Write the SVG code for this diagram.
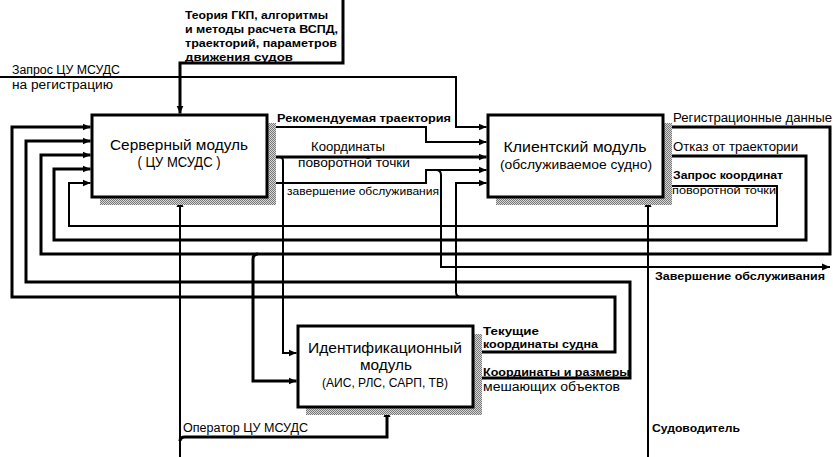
<svg xmlns="http://www.w3.org/2000/svg" width="833" height="457" viewBox="0 0 833 457">
<style>
.c{fill:none;stroke:#000;stroke-width:3;stroke-linejoin:miter}
.t{stroke-width:2}
.box{fill:#fff;stroke:#000;stroke-width:3}
.sh{fill:url(#hatch)}
text{font-family:"Liberation Sans",Arial,sans-serif;fill:#000}
.ttl{font-size:14.5px}
.sub{font-size:13px}
.lb{font-size:11px;font-weight:bold}
.ln{font-size:12px}
.sm{font-size:10.5px}
</style>
<defs>
<pattern id="hatch" width="2" height="2" patternUnits="userSpaceOnUse">
<rect width="2" height="2" fill="#d8d8d8"/>
<rect width="1" height="1" fill="#777"/>
<rect x="1" y="1" width="1" height="1" fill="#777"/>
</pattern>
<marker id="ar" markerUnits="userSpaceOnUse" markerWidth="9" markerHeight="8" refX="8" refY="4" orient="auto">
<path d="M0,0.5 L8,4 L0,7.5 z" fill="#000"/>
</marker>
</defs>

<g id="connectors">
<path class="c" d="M343,0 V63 H180 V113.5" marker-end="url(#ar)"/>
<path class="c t" d="M0,77 H456 V127 H486.5" marker-end="url(#ar)"/>
<path class="c t" d="M273,127 H426 V142 H486.5" marker-end="url(#ar)"/>
<path class="c" d="M273,157 H486.5" marker-end="url(#ar)"/>
<path class="c t" d="M279,157 Q283,157 283,161 V353 H296.5" marker-end="url(#ar)"/>
<path class="c t" d="M273,183 H426 V170 H486.5" marker-end="url(#ar)"/>
<path class="c t" d="M436,170 Q441,170 441,175 V267 H830" marker-end="url(#ar)"/>
<path class="c" d="M670,127 H830 V254 H41 V155 H90.5" marker-end="url(#ar)"/>
<path class="c" d="M258,254 Q253,254 253,259 V381 H296.5" marker-end="url(#ar)"/>
<path class="c" d="M670,156 H806 V240 H54 V169 H90.5" marker-end="url(#ar)"/>
<path class="c t" d="M670,186 H777 V226 H69 V183 H90.5" marker-end="url(#ar)"/>
<path class="c" d="M481,352 H615 V297 H12 V127 H90.5" marker-end="url(#ar)"/>
<path class="c t" d="M461,297 Q456,297 456,292 V183 H486.5" marker-end="url(#ar)"/>
<path class="c" d="M481,378 H630 V282 H26 V141 H90.5" marker-end="url(#ar)"/>
<path class="c t" d="M180,457 V199" marker-end="url(#ar)"/>
<path class="c" d="M180,441 Q180,437 185,437 H387 V409" marker-end="url(#ar)"/>
<path class="c t" d="M648,457 V199" marker-end="url(#ar)"/>
</g>

<g id="server">
<rect class="sh" x="100" y="123" width="176" height="82"/>
<rect class="box" x="92" y="115" width="175" height="82"/>
<text class="ttl" x="179" y="150" text-anchor="middle" textLength="138" lengthAdjust="spacingAndGlyphs">Серверный модуль</text>
<text class="ttl" x="179" y="167" text-anchor="middle" textLength="83" lengthAdjust="spacingAndGlyphs">( ЦУ МСУДС )</text>
</g>

<g id="client">
<rect class="sh" x="496" y="123" width="176" height="82"/>
<rect class="box" x="488" y="115" width="175" height="82"/>
<text class="ttl" x="575" y="152" text-anchor="middle" textLength="143" lengthAdjust="spacingAndGlyphs">Клиентский модуль</text>
<text class="sub" x="576" y="169" text-anchor="middle" textLength="152" lengthAdjust="spacingAndGlyphs">(обслуживаемое судно)</text>
</g>

<g id="ident">
<rect class="sh" x="306" y="334" width="176" height="81"/>
<rect class="box" x="298" y="326" width="175" height="81"/>
<text class="ttl" x="385" y="353" text-anchor="middle" textLength="154" lengthAdjust="spacingAndGlyphs">Идентификационный</text>
<text class="ttl" x="386" y="370" text-anchor="middle" textLength="52" lengthAdjust="spacingAndGlyphs">модуль</text>
<text class="sub" x="385" y="387" text-anchor="middle" textLength="126" lengthAdjust="spacingAndGlyphs">(АИС, РЛС, САРП, ТВ)</text>
</g>

<g id="labels">
<text class="lb" x="185" y="18.5" textLength="143" lengthAdjust="spacingAndGlyphs">Теория ГКП, алгоритмы</text>
<text class="lb" x="185" y="33" textLength="153" lengthAdjust="spacingAndGlyphs">и методы расчета ВСПД,</text>
<text class="lb" x="185" y="47" textLength="152" lengthAdjust="spacingAndGlyphs">траекторий, параметров</text>
<text class="lb" x="185" y="60.5" textLength="108" lengthAdjust="spacingAndGlyphs">движения  судов</text>
<text class="ln" x="12" y="74" textLength="108" lengthAdjust="spacingAndGlyphs">Запрос ЦУ МСУДС</text>
<text class="ln" x="12" y="89" textLength="101" lengthAdjust="spacingAndGlyphs">на  регистрацию</text>
<text class="lb" x="277" y="122" textLength="174" lengthAdjust="spacingAndGlyphs">Рекомендуемая траектория</text>
<text class="ln" x="348" y="151" text-anchor="middle" textLength="74" lengthAdjust="spacingAndGlyphs">Координаты</text>
<text class="ln" x="354" y="167" text-anchor="middle" textLength="112" lengthAdjust="spacingAndGlyphs">поворотной точки</text>
<text class="sm" x="287" y="195" textLength="152" lengthAdjust="spacingAndGlyphs">завершение обслуживания</text>
<text class="ln" x="673" y="122" textLength="159" lengthAdjust="spacingAndGlyphs">Регистрационные данные</text>
<text class="ln" x="673" y="151" textLength="125" lengthAdjust="spacingAndGlyphs">Отказ от траектории</text>
<text class="lb" x="673" y="179" textLength="110" lengthAdjust="spacingAndGlyphs">Запрос координат</text>
<text class="sm" x="672" y="194" textLength="104" lengthAdjust="spacingAndGlyphs">поворотной  точки</text>
<text class="lb" x="655" y="280" textLength="170" lengthAdjust="spacingAndGlyphs">Завершение обслуживания</text>
<text class="lb" x="483" y="335" textLength="56" lengthAdjust="spacingAndGlyphs">Текущие</text>
<text class="lb" x="483" y="348" textLength="115" lengthAdjust="spacingAndGlyphs">координаты судна</text>
<text class="lb" x="483" y="376" textLength="147" lengthAdjust="spacingAndGlyphs">Координаты и размеры</text>
<text class="ln" x="483" y="391" textLength="137" lengthAdjust="spacingAndGlyphs">мешающих  объектов</text>
<text class="lb" x="652" y="432" textLength="88" lengthAdjust="spacingAndGlyphs">Судоводитель</text>
<text class="ln" x="183" y="432" textLength="125" lengthAdjust="spacingAndGlyphs">Оператор ЦУ МСУДС</text>
</g>
</svg>
